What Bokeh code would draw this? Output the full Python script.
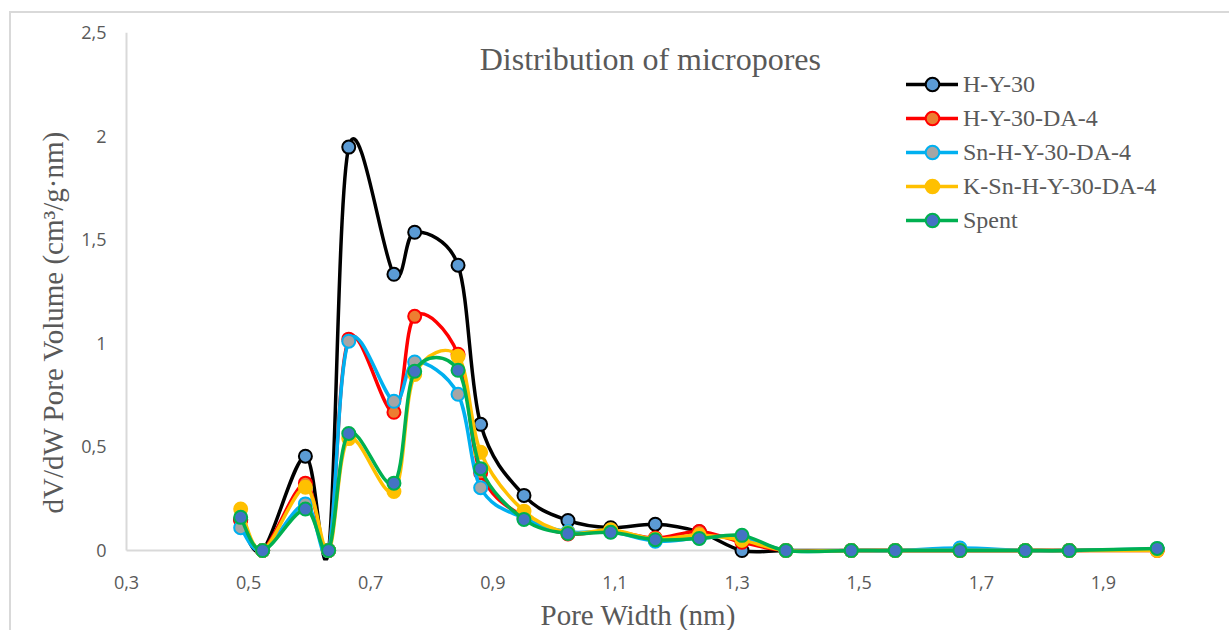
from bokeh.plotting import figure
from bokeh.models import (ColumnDataSource, Legend, LegendItem, Label, Title,
                          FixedTicker, CustomJSTickFormatter)
from bokeh.layouts import column
from bokeh.embed import file_html
from bokeh.resources import INLINE
import math

# Pore width (nm) of each DFT bin
pore_width = [0.487, 0.523, 0.593, 0.631, 0.664, 0.738, 0.772, 0.843, 0.880, 0.951,
              1.023, 1.093, 1.166, 1.238, 1.308, 1.380, 1.487, 1.559, 1.665, 1.772,
              1.844, 1.988, 2.060]

# dV/dW pore volume (cm3/g.nm) per sample
h_y_30 = [0.150, 0.0, 0.455, 0.0, 1.947, 1.333, 1.536, 1.377, 0.609, 0.266,
          0.145, 0.110, 0.127, 0.090, 0.0, 0.0, 0.0, 0.0, 0.0, 0.0,
          0.0, 0.005, 0.005]
h_y_30_da_4 = [0.145, 0.0, 0.325, 0.0, 1.020, 0.667, 1.130, 0.947, 0.375, 0.160,
               0.080, 0.095, 0.060, 0.092, 0.040, 0.0, 0.0, 0.0, 0.0, 0.0,
               0.0, 0.0, 0.0]
sn_h_y_30_da_4 = [0.110, 0.0, 0.225, 0.0, 1.010, 0.720, 0.910, 0.754, 0.303, 0.155,
                  0.090, 0.090, 0.045, 0.060, 0.065, 0.0, 0.0, 0.0, 0.012, 0.0,
                  0.0, 0.008, 0.008]
k_sn_h_y_30_da_4 = [0.200, 0.0, 0.305, 0.0, 0.540, 0.285, 0.850, 0.937, 0.474, 0.190,
                    0.085, 0.100, 0.055, 0.075, 0.050, 0.0, 0.0, 0.0, 0.0, 0.0,
                    0.0, 0.0, 0.0]
spent = [0.160, 0.0, 0.200, 0.0, 0.565, 0.325, 0.865, 0.870, 0.395, 0.150,
         0.082, 0.088, 0.052, 0.058, 0.073, 0.0, 0.0, 0.0, 0.0, 0.0,
         0.0, 0.010, 0.010]

series_names = ["H-Y-30", "H-Y-30-DA-4", "Sn-H-Y-30-DA-4", "K-Sn-H-Y-30-DA-4", "Spent"]
series_values = [h_y_30, h_y_30_da_4, sn_h_y_30_da_4, k_sn_h_y_30_da_4, spent]
line_colors = ["#000000", "#FF0000", "#00B0F0", "#FFC000", "#00B050"]
marker_fills = ["#5B9BD5", "#ED7D31", "#A5A5A5", "#FFC000", "#4472C4"]

x_ticks = [0.3, 0.5, 0.7, 0.9, 1.1, 1.3, 1.5, 1.7, 1.9]
y_ticks = [0, 0.5, 1.0, 1.5, 2.0, 2.5]

GREY_TEXT = "#595959"
AXIS_GREY = "#D9D9D9"

FRAME_W, FRAME_H = 1041, 528
X_START, X_END = 0.3 - 3 / 610.6, 2.0
Y_START, Y_END = -10 / 207.2, 2.5
PX_X = FRAME_W / (X_END - X_START)   # pixels per nm
PX_Y = FRAME_H / (Y_END - Y_START)   # pixels per unit of dV/dW


def smooth_segments(xs, ys):
    """Bezier pieces of a smoothed line through the points (spreadsheet-style
    smoothing: Catmull-Rom tangents, arm length capped at half the segment)."""
    n = len(xs)
    sx = [x * PX_X for x in xs]
    sy = [y * PX_Y for y in ys]

    def dist(i, j):
        return math.hypot(sx[j] - sx[i], sy[j] - sy[i])

    seg = dict(x0=[], y0=[], x1=[], y1=[], cx0=[], cy0=[], cx1=[], cy1=[])
    for i in range(n - 1):
        a = max(i - 1, 0)
        b = min(i + 2, n - 1)
        d12 = dist(i, i + 1)
        d02 = dist(a, i + 1)
        d13 = dist(i, b)
        f0 = 1 / 6 if d02 == 0 else min(1 / 6, d12 / (2 * d02))
        f1 = 1 / 6 if d13 == 0 else min(1 / 6, d12 / (2 * d13))
        seg["x0"].append(xs[i]); seg["y0"].append(ys[i])
        seg["x1"].append(xs[i + 1]); seg["y1"].append(ys[i + 1])
        seg["cx0"].append(xs[i] + (xs[i + 1] - xs[a]) * f0)
        seg["cy0"].append(ys[i] + (ys[i + 1] - ys[a]) * f0)
        seg["cx1"].append(xs[i + 1] - (xs[b] - xs[i]) * f1)
        seg["cy1"].append(ys[i + 1] - (ys[b] - ys[i]) * f1)
    return seg


p = figure(frame_width=FRAME_W, frame_height=FRAME_H,
           x_range=(X_START, X_END), y_range=(Y_START, Y_END),
           min_border_left=112, min_border_right=65,
           min_border_top=19, min_border_bottom=70,
           output_backend="svg", toolbar_location=None,
           background_fill_color="white", border_fill_color="white")
p.outline_line_color = None
p.grid.visible = False

tick_font = "Open Sans"
for ax in (p.xaxis[0], p.yaxis[0]):
    ax.axis_line_color = None
    ax.major_tick_line_color = None
    ax.minor_tick_line_color = None
    ax.major_label_text_font = tick_font
    ax.major_label_text_font_size = "18px"
    ax.major_label_text_color = GREY_TEXT

p.xaxis.ticker = FixedTicker(ticks=x_ticks)
p.xaxis.formatter = CustomJSTickFormatter(code="return tick.toFixed(1).replace('.', ',');")
p.xaxis.major_label_standoff = 9
p.yaxis.ticker = FixedTicker(ticks=y_ticks)
p.yaxis.formatter = CustomJSTickFormatter(
    code="return String(Math.round(tick * 10) / 10).replace('.', ',');")
p.yaxis.major_label_standoff = 11

# axis lines at x = 0.3 and y = 0
p.segment(x0=[x_ticks[0]], y0=[0], x1=[x_ticks[0]], y1=[y_ticks[-1]],
          line_color=AXIS_GREY, line_width=2)
p.segment(x0=[x_ticks[0]], y0=[0], x1=[X_END], y1=[0],
          line_color=AXIS_GREY, line_width=2)

legend_items = []
for name, vals, lc, mf in zip(series_names, series_values, line_colors, marker_fills):
    seg_src = ColumnDataSource(smooth_segments(pore_width, vals))
    curve = p.bezier(x0="x0", y0="y0", x1="x1", y1="y1",
                     cx0="cx0", cy0="cy0", cx1="cx1", cy1="cy1",
                     source=seg_src, line_color=lc, line_width=3.5, line_cap="round")
    pts = p.scatter(x=pore_width, y=vals, size=13, marker="circle",
                    fill_color=mf, line_color=lc, line_width=2)
    legend_items.append(LegendItem(label=name, renderers=[curve, pts]))

legend = Legend(items=legend_items, location=(783, 323),
                label_text_font="Liberation Serif", label_text_font_size="24px",
                label_text_color=GREY_TEXT, glyph_width=52, glyph_height=34,
                label_height=34, label_standoff=5, spacing=0, padding=0, margin=0,
                border_line_color=None, background_fill_alpha=0)
p.add_layout(legend)

p.add_layout(Label(x=1.158, y=2.372, text="Distribution of micropores",
                   text_font="Liberation Serif", text_font_size="32px",
                   text_color=GREY_TEXT, text_align="center",
                   text_baseline="alphabetic"))

x_title = Title(text="Pore Width (nm)", align="left", offset=417, standoff=10,
                text_font="Liberation Serif", text_font_size="29px",
                text_font_style="normal", text_color=GREY_TEXT)
p.add_layout(x_title, "below")

y_title = Title(text="dV/dW Pore Volume (cm³/g·nm)", align="left", offset=47,
                standoff=20, text_font="Liberation Serif", text_font_size="29px",
                text_font_style="normal", text_color=GREY_TEXT)
p.add_layout(y_title, "left")

page = column(p, styles={"margin-left": "9px", "margin-top": "11px",
                         "border-left": "2px solid #D9D9D9",
                         "border-top": "2px solid #D9D9D9"})

open("out.html", "w").write(file_html(page, INLINE))
